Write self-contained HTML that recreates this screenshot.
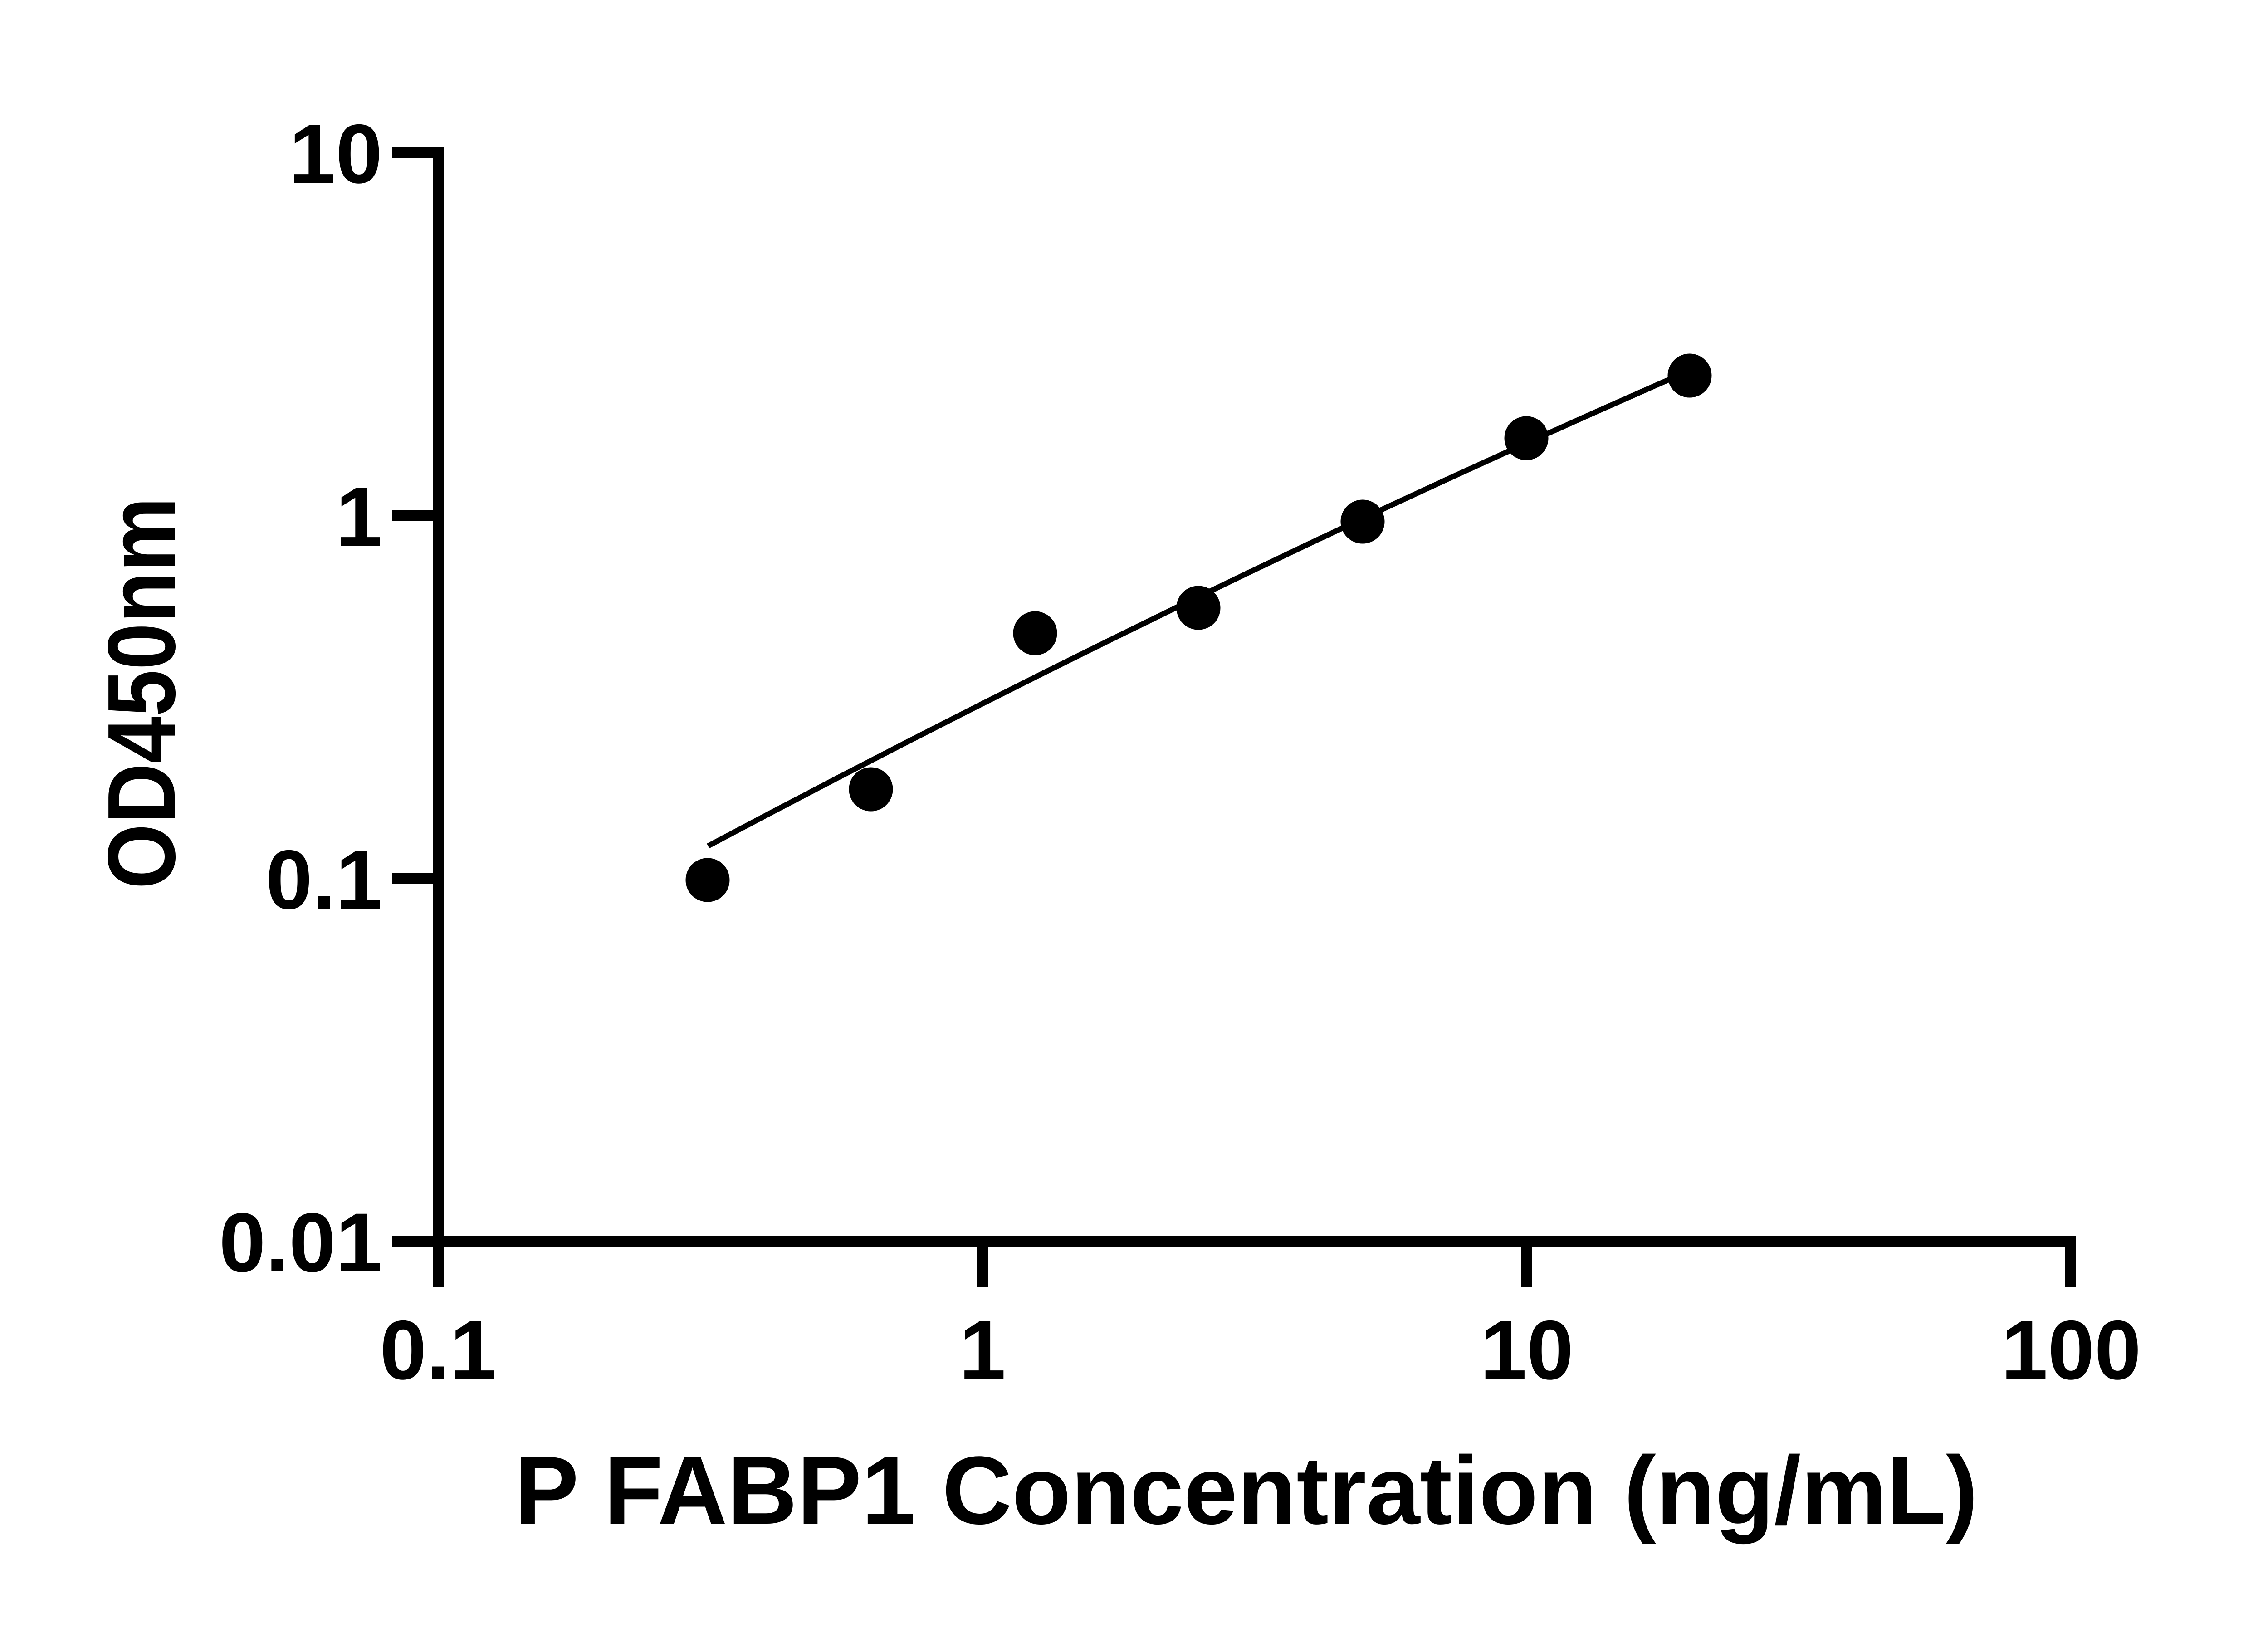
<!DOCTYPE html>
<html>
<head>
<meta charset="utf-8">
<style>
html,body{margin:0;padding:0;background:#fff;}
svg{display:block;}
text{font-family:"Liberation Sans",Arial,sans-serif;font-weight:bold;fill:#000;}
</style>
</head>
<body>
<svg width="5118" height="3600" viewBox="0 0 5118 3600" xmlns="http://www.w3.org/2000/svg">
<rect width="5118" height="3600" fill="#fff"/>
<!-- Y axis (extends below x-axis as the 0.1 x tick) -->
<rect x="954" y="324" width="24" height="2514" fill="#000"/>
<!-- X axis (extends left as 0.01 y tick) -->
<rect x="864" y="2724" width="3713" height="24" fill="#000"/>
<!-- Y ticks -->
<rect x="864" y="324" width="114" height="24" fill="#000"/>
<rect x="864" y="1124" width="114" height="24" fill="#000"/>
<rect x="864" y="1924" width="114" height="24" fill="#000"/>
<!-- X ticks -->
<rect x="2154" y="2724" width="24" height="114" fill="#000"/>
<rect x="3354" y="2724" width="24" height="114" fill="#000"/>
<rect x="4553" y="2724" width="24" height="114" fill="#000"/>

<!-- Y tick labels -->
<g font-size="185" text-anchor="end">
<text x="843" y="403">10</text>
<text x="843" y="1203">1</text>
<text x="843" y="2003">0.1</text>
<text x="843" y="2803">0.01</text>
</g>
<!-- X tick labels -->
<g font-size="185" text-anchor="middle">
<text x="966" y="3040">0.1</text>
<text x="2166" y="3040">1</text>
<text x="3366" y="3040">10</text>
<text x="4566" y="3040">100</text>
</g>

<!-- Axis titles -->
<text x="1134" y="3359" font-size="213">P FABP1 Concentration (ng/mL)</text>
<text x="0" y="0" font-size="212" transform="translate(385,1960) rotate(-90)" textLength="864" lengthAdjust="spacingAndGlyphs">OD450nm</text>

<!-- Fit curve -->
<polyline fill="none" stroke="#000" stroke-width="12" stroke-linejoin="round"
points="1561,1865 1700,1791.5 1850,1713.1 2000,1635.7 2150,1559.3 2300,1483.9 2450,1409.5 2600,1336 2750,1263.6 2900,1192.1 3050,1121.7 3200,1052.2 3350,983.7 3500,916.2 3650,849.7 3727,815.9"/>

<!-- Data points -->
<g fill="#000">
<circle cx="1560" cy="1940" r="48.5"/>
<circle cx="1920" cy="1740" r="48.5"/>
<circle cx="2282" cy="1396" r="48.5"/>
<circle cx="2642" cy="1340" r="48.5"/>
<circle cx="3004" cy="1150" r="48.5"/>
<circle cx="3365" cy="966" r="48.5"/>
<circle cx="3725" cy="828" r="48.5"/>
</g>
</svg>
</body>
</html>
